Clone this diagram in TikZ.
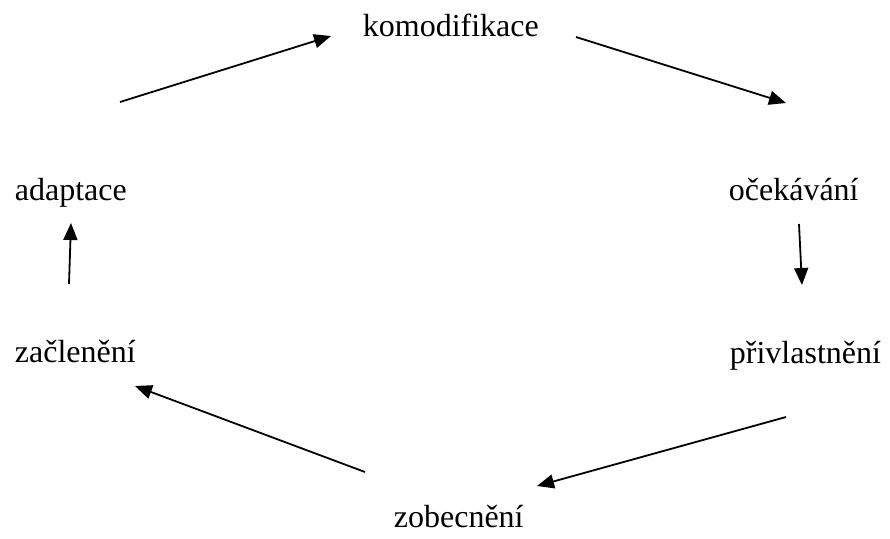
\documentclass[tikz,border=0pt]{standalone}
\usepackage{fontspec}
\setmainfont{Liberation Serif}
\usetikzlibrary{arrows.meta}

\begin{document}
\begin{tikzpicture}[x=0.5pt,y=-0.5pt,font=\fontsize{16}{19}\selectfont,
   >={Triangle[length=8.5pt,width=7pt]},line width=0.9pt,
   every node/.style={anchor=base west,inner sep=0pt}]
   \useasboundingbox (0,0) rectangle (890,538);
   \node (komo) at (362,36)  {komodifikace};
   \node (ocek) at (728,200) {očekávání};
   \node (priv) at (729,363) {přivlastnění};
   \node (zobe) at (393,527) {zobecnění};
   \node (zacl) at (14,362)  {začlenění};
   \node (adap) at (14,200)  {adaptace};
   % konce sipek
   \coordinate (a1) at (120,102); \coordinate (b1) at (331,36);
   \coordinate (a2) at (576,37);  \coordinate (b2) at (786,103);
   \coordinate (a3) at (799,224); \coordinate (b3) at (802,285);
   \coordinate (a4) at (786,417); \coordinate (b4) at (537,486);
   \coordinate (a5) at (365,472); \coordinate (b5) at (135,386);
   \coordinate (a6) at (69,284);  \coordinate (b6) at (71,223);
    \path[->]
    (a1) edge (b1)
    (a2) edge (b2)
    (a3) edge (b3)
    (a4) edge (b4)
    (a5) edge (b5)
    (a6) edge (b6);
\end{tikzpicture}
\end{document}
